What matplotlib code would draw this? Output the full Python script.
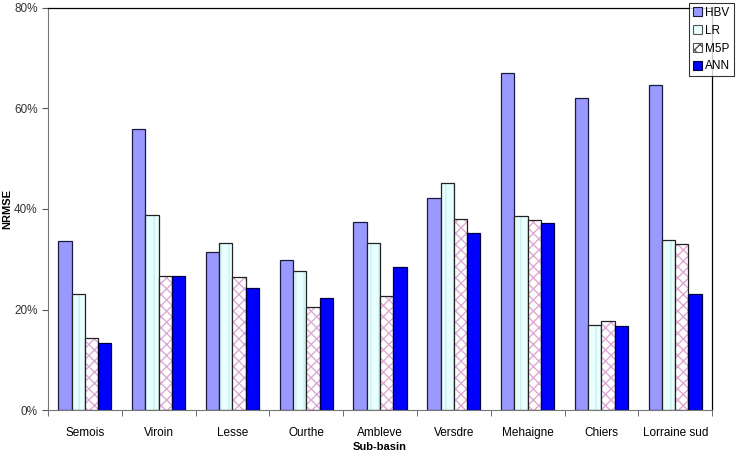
import numpy as np
import matplotlib
matplotlib.use("Agg")
import matplotlib.pyplot as plt
from matplotlib.ticker import PercentFormatter, FixedLocator
from matplotlib.patches import Patch

plt.rcParams['font.family'] = ['Liberation Sans', 'DejaVu Sans']

basins = ["Semois", "Viroin", "Lesse", "Ourthe", "Ambleve", "Versdre",
          "Mehaigne", "Chiers", "Lorraine sud"]
hbv = [33.6, 55.9, 31.4, 29.9, 37.4, 42.2, 67.1, 62.1, 64.7]
lr = [23.1, 38.8, 33.2, 27.7, 33.2, 45.2, 38.6, 16.9, 33.8]
m5p = [14.3, 26.7, 26.5, 20.5, 22.7, 38.0, 37.8, 17.7, 33.0]
ann = [13.3, 26.7, 24.3, 22.3, 28.5, 35.2, 37.2, 16.7, 23.1]
names = ["HBV", "LR", "M5P", "ANN"]

fig = plt.figure(figsize=(7.37, 4.54), dpi=100)
ax = fig.add_axes([0.0651, 0.0969, 0.9011, 0.8855])

x = np.arange(len(basins))
w = 0.18
offs = [-1.5 * w, -0.5 * w, 0.5 * w, 1.5 * w]

# HBV
ax.bar(x + offs[0], hbv, w, color="#9999ff", edgecolor="#1a1a40", linewidth=0.9)
# LR: light cyan with faint vertical lines
ax.bar(x + offs[1], lr, w, color="#e8ffff", edgecolor="#cdeeee", linewidth=0, hatch="||")
ax.bar(x + offs[1], lr, w, fill=False, edgecolor="#222222", linewidth=0.9)
# M5P: white with pink wavy pattern
ax.bar(x + offs[2], m5p, w, color="white", edgecolor="#dcaad4", linewidth=0, hatch="xxx")
ax.bar(x + offs[2], m5p, w, fill=False, edgecolor="#222222", linewidth=0.9)
# ANN
ax.bar(x + offs[3], ann, w, color="#0000ff", edgecolor="#000040", linewidth=0.9)

ax.set_xlim(-0.5, len(basins) - 0.5)
ax.set_ylim(0, 80)
ax.set_yticks([0, 20, 40, 60, 80])
ax.yaxis.set_major_formatter(PercentFormatter(decimals=0))
ax.set_xticks(x)
ax.set_xticklabels(basins, fontsize=8.5)
ax.xaxis.set_minor_locator(FixedLocator(np.arange(-0.5, len(basins), 1.0)))
ax.tick_params(axis="x", which="major", length=0, pad=12)
ax.tick_params(axis="x", which="minor", length=4, direction="out", color="#555555")
ax.tick_params(axis="y", labelsize=8.5, length=4, direction="out", color="#555555", labelcolor="#333333")

for s in ["left", "bottom"]:
    ax.spines[s].set_color("#777777")
for s in ["top", "right"]:
    ax.spines[s].set_color("black")
    ax.spines[s].set_linewidth(0.9)

ax.set_xlabel("Sub-basin", fontsize=8, fontweight="bold", va="center")
ax.xaxis.set_label_coords(0.5, -0.093)
ax.set_ylabel("NRMSE", fontsize=8, fontweight="bold", va="center")
ax.yaxis.set_label_coords(-0.061, 0.5)

handles = [
    Patch(facecolor="#9999ff", edgecolor="#1a1a40", linewidth=0.8),
    Patch(facecolor="#e8ffff", edgecolor="#555555", linewidth=0.8),
    Patch(facecolor="white", edgecolor="#555555", linewidth=0.8, hatch="xxx"),
    Patch(facecolor="#0000ff", edgecolor="#000040", linewidth=0.8),
]
leg = fig.legend(handles, names, loc="upper left", bbox_to_anchor=(0.935, 0.993),
                 fontsize=8.5, frameon=True, fancybox=False, handlelength=0.8,
                 handleheight=0.8, handletextpad=0.25, borderpad=0.3,
                 labelspacing=0.5, borderaxespad=0)
leg.get_frame().set_edgecolor("black")
leg.get_frame().set_linewidth(0.8)

fig.savefig("out.png", dpi=100)
